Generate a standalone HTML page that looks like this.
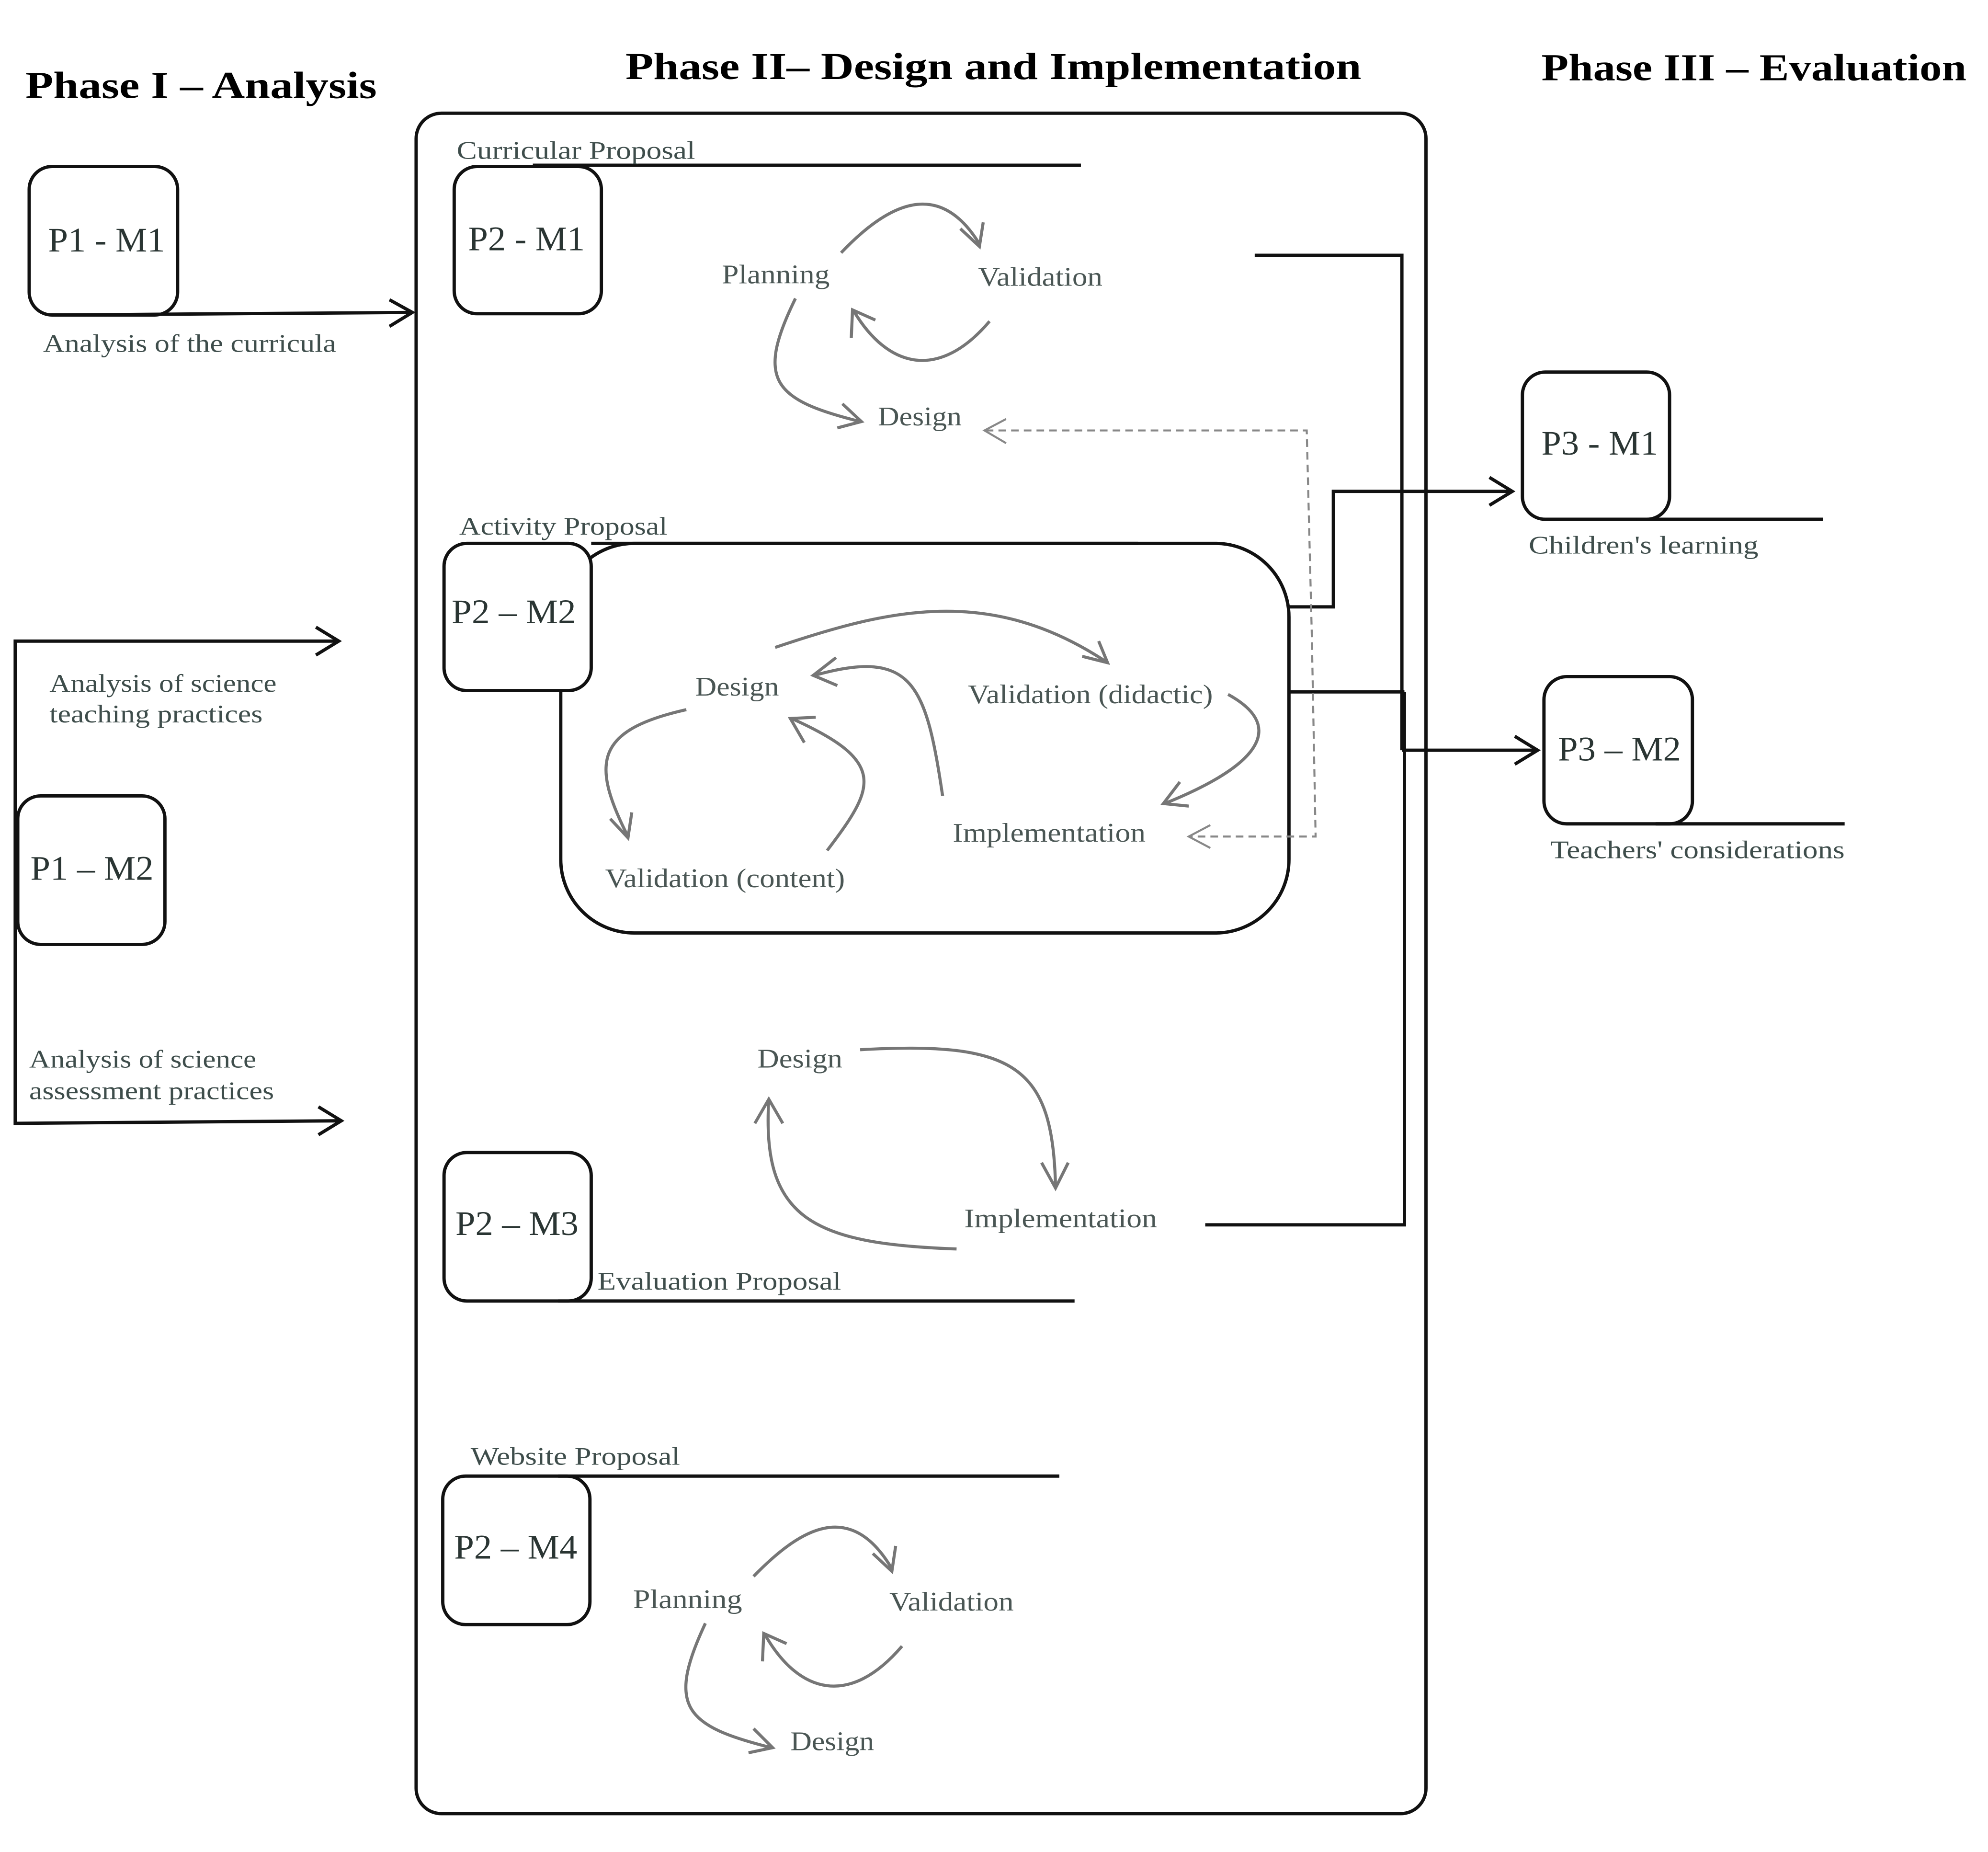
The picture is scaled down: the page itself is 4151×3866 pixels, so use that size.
<!DOCTYPE html>
<html><head><meta charset="utf-8"><style>
html,body{margin:0;padding:0;background:#fff;}
svg{display:block}
text{font-family:"Liberation Serif",serif;}
.t{font-size:30px;font-weight:bold;fill:#000}
.l{font-size:20px;fill:#3e4d4b}
.c{font-size:21px;fill:#4a5654}
.m{font-size:27px;fill:#2a3533}
.b{fill:none;stroke:#111;stroke-width:2.6}
.g{fill:none;stroke:#767676;stroke-width:2.4}
</style></head><body>
<svg width="4151" height="3866" viewBox="0 0 1567 1459" xmlns="http://www.w3.org/2000/svg">
<text class="t" x="20" y="77" textLength="277" lengthAdjust="spacingAndGlyphs">Phase I – Analysis</text>
<text class="t" x="493" y="62" textLength="580" lengthAdjust="spacingAndGlyphs">Phase II– Design and Implementation</text>
<text class="t" x="1215" y="63" textLength="335" lengthAdjust="spacingAndGlyphs">Phase III – Evaluation</text>

<rect class="b" x="328" y="89" width="796" height="1340" rx="20" stroke-width="3"/>

<!-- P1-M1 -->
<rect class="b" x="23" y="131" width="117" height="117" rx="18"/>
<text class="m" x="38" y="198" textLength="92" lengthAdjust="spacingAndGlyphs">P1 - M1</text>
<path class="b" d="M45 248 L325 246 M307 236 L325 246 L307 257"/>
<text class="l" x="34" y="277" textLength="231" lengthAdjust="spacingAndGlyphs">Analysis of the curricula</text>

<!-- P1-M2 -->
<rect class="b" x="14" y="627" width="116" height="117" rx="18"/>
<text class="m" x="24" y="693" textLength="97" lengthAdjust="spacingAndGlyphs">P1 – M2</text>
<path class="b" d="M267 505 L12 505 L12 885 L269 883 M249 494 L267 505 L249 516 M251 872 L269 883 L251 894"/>
<text class="l" x="39" y="545" textLength="179" lengthAdjust="spacingAndGlyphs">Analysis of science</text>
<text class="l" x="39" y="569" textLength="168" lengthAdjust="spacingAndGlyphs">teaching practices</text>
<text class="l" x="23" y="841" textLength="179" lengthAdjust="spacingAndGlyphs">Analysis of science</text>
<text class="l" x="23" y="866" textLength="193" lengthAdjust="spacingAndGlyphs">assessment practices</text>

<!-- P2-M1 -->
<rect class="b" x="358" y="131" width="116" height="116" rx="18"/>
<text class="m" x="369" y="197" textLength="92" lengthAdjust="spacingAndGlyphs">P2 - M1</text>
<path class="b" d="M420 130 L852 130"/>
<text class="l" x="360" y="125" textLength="188" lengthAdjust="spacingAndGlyphs">Curricular Proposal</text>
<text class="c" x="569" y="223" textLength="85" lengthAdjust="spacingAndGlyphs">Planning</text>
<text class="c" x="771" y="225" textLength="98" lengthAdjust="spacingAndGlyphs">Validation</text>
<text class="c" x="692" y="335" textLength="66" lengthAdjust="spacingAndGlyphs">Design</text>
<path class="g" d="M663 199 C700 160 740 140 772 192 M757 180 L772 194 L775 175"/>
<path class="g" d="M780 253 C740 300 700 290 673 245 M671 266 L672 244 L690 252"/>
<path class="g" d="M627 235 C595 300 610 315 678 332 M664 318 L679 332 L660 337"/>

<!-- P2-M2 -->
<rect class="b" x="442" y="428" width="574" height="307" rx="58"/>
<path class="b" d="M466 428 L897 428"/>
<rect class="b" x="350" y="428" width="116" height="116" rx="18" style="fill:#fff"/>
<text class="m" x="356" y="491" textLength="98" lengthAdjust="spacingAndGlyphs">P2 – M2</text>
<text class="l" x="362" y="421" textLength="164" lengthAdjust="spacingAndGlyphs">Activity Proposal</text>
<text class="c" x="548" y="548" textLength="66" lengthAdjust="spacingAndGlyphs">Design</text>
<text class="c" x="763" y="554" textLength="193" lengthAdjust="spacingAndGlyphs">Validation (didactic)</text>
<text class="c" x="751" y="663" textLength="152" lengthAdjust="spacingAndGlyphs">Implementation</text>
<text class="c" x="477" y="699" textLength="189" lengthAdjust="spacingAndGlyphs">Validation (content)</text>
<path class="g" d="M611 510 C700 480 780 460 873 522 M853 517 L873 522 L866 505"/>
<path class="g" d="M968 547 C1010 570 1000 600 918 633 M930 616 L917 633 L937 635"/>
<path class="g" d="M743 627 C730 540 720 510 642 532 M659 518 L641 532 L660 540"/>
<path class="g" d="M652 670 C690 620 700 600 624 566 M634 585 L623 566 L643 565"/>
<path class="g" d="M541 559 C470 575 465 600 495 659 M481 645 L495 660 L498 640"/>

<!-- P2-M3 -->
<text class="c" x="597" y="841" textLength="67" lengthAdjust="spacingAndGlyphs">Design</text>
<text class="c" x="760" y="967" textLength="152" lengthAdjust="spacingAndGlyphs">Implementation</text>
<path class="g" d="M678 827 C800 820 830 840 832 935 M821 916 L832 936 L842 916"/>
<path class="g" d="M754 984 C640 980 600 960 606 866 M595 885 L606 866 L617 885"/>
<rect class="b" x="350" y="908" width="116" height="117" rx="18"/>
<text class="m" x="359" y="973" textLength="97" lengthAdjust="spacingAndGlyphs">P2 – M3</text>
<path class="b" d="M440 1025 L847 1025"/>
<text class="l" x="471" y="1016" textLength="192" lengthAdjust="spacingAndGlyphs">Evaluation Proposal</text>

<!-- P2-M4 -->
<rect class="b" x="349" y="1163" width="116" height="117" rx="18"/>
<text class="m" x="358" y="1228" textLength="97" lengthAdjust="spacingAndGlyphs">P2 – M4</text>
<path class="b" d="M440 1163 L835 1163"/>
<text class="l" x="371" y="1154" textLength="165" lengthAdjust="spacingAndGlyphs">Website Proposal</text>
<text class="c" x="499" y="1267" textLength="86" lengthAdjust="spacingAndGlyphs">Planning</text>
<text class="c" x="701" y="1269" textLength="98" lengthAdjust="spacingAndGlyphs">Validation</text>
<text class="c" x="623" y="1379" textLength="66" lengthAdjust="spacingAndGlyphs">Design</text>
<path class="g" d="M594 1242 C630 1205 670 1180 703 1236 M688 1224 L703 1238 L706 1218"/>
<path class="g" d="M711 1297 C670 1345 630 1335 603 1288 M601 1309 L602 1287 L620 1295"/>
<path class="g" d="M556 1279 C525 1345 540 1360 608 1377 M594 1362 L609 1377 L590 1381"/>

<!-- connectors -->
<path class="b" d="M989 201 L1105 201 L1105 591 M1107 545 L1107 965 L950 965 M1016 545 L1107 545 M1105 591 L1212 591 M1194 580 L1212 591 L1194 602"/>
<path class="b" d="M1016 478 L1051 478 L1051 387 L1192 387 M1174 376 L1192 387 L1174 398"/>
<path fill="none" stroke="#888" stroke-width="1.6" stroke-dasharray="6,4" d="M777 339 L1030 339 L1034 500 L1037 659 L937 659"/>
<path fill="none" stroke="#888" stroke-width="1.6" d="M793 330 L776 339 L793 349 M954 650 L937 659 L954 668"/>

<!-- Phase III -->
<rect class="b" x="1200" y="293" width="116" height="116" rx="18"/>
<text class="m" x="1215" y="358" textLength="92" lengthAdjust="spacingAndGlyphs">P3 - M1</text>
<path class="b" d="M1290 409 L1437 409"/>
<text class="l" x="1205" y="436" textLength="181" lengthAdjust="spacingAndGlyphs">Children's learning</text>
<rect class="b" x="1217" y="533" width="117" height="116" rx="18"/>
<text class="m" x="1228" y="599" textLength="97" lengthAdjust="spacingAndGlyphs">P3 – M2</text>
<path class="b" d="M1305 649 L1454 649"/>
<text class="l" x="1222" y="676" textLength="232" lengthAdjust="spacingAndGlyphs">Teachers' considerations</text>
</svg>
</body></html>
